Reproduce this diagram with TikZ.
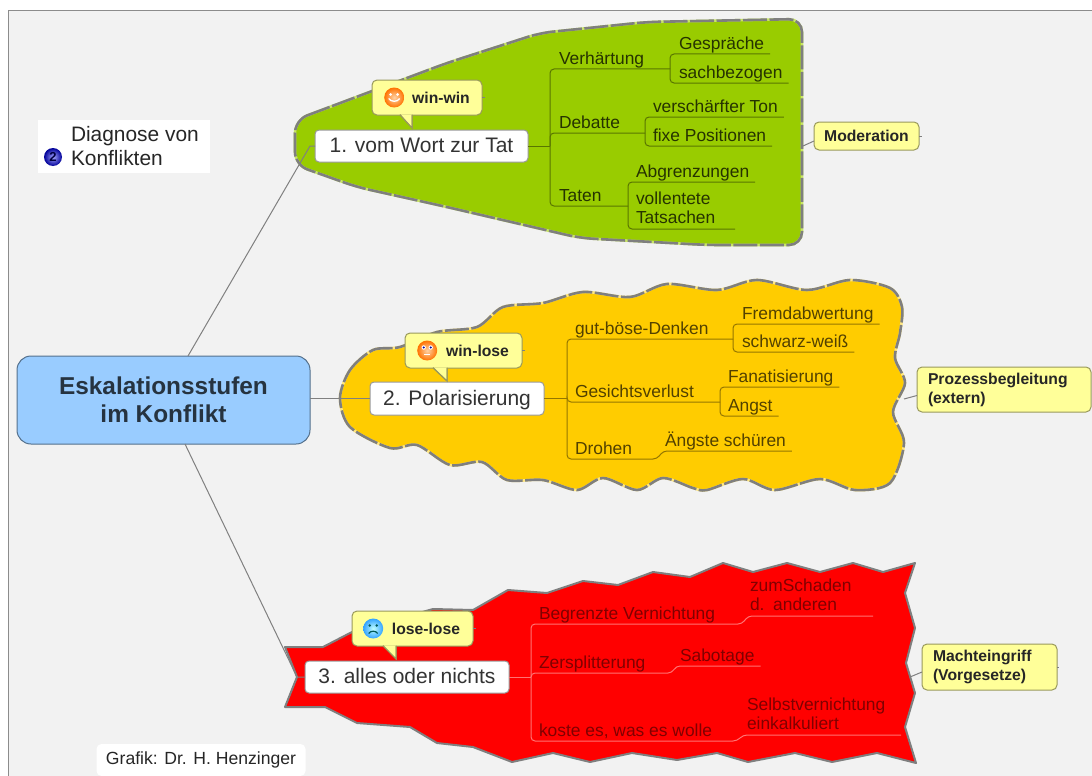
\documentclass[tikz,border=0pt]{standalone}
\usepackage{fontspec}
\setmainfont{Liberation Sans}
\usetikzlibrary{positioning,shapes.geometric}
\definecolor{paper}{HTML}{F2F2F2}
\definecolor{framegray}{HTML}{8C8C8C}
\definecolor{rimgray}{HTML}{7F7F7F}
\definecolor{leaf}{HTML}{99CC00}
\definecolor{leafgap}{HTML}{C8E468}
\definecolor{sun}{HTML}{FFCC00}
\definecolor{sungap}{HTML}{FFE680}
\definecolor{fire}{HTML}{FF0000}
\definecolor{bubbley}{HTML}{FFFF99}
\definecolor{sky}{HTML}{99CCFF}
\tikzstyle{central} = [rectangle, rounded corners=14pt, minimum width=293pt, minimum height=88pt, align=center, draw=black!45!sky, line width=1pt, fill=sky, text=black!75!sky, font=\fontsize{24.4}{28}\selectfont\bfseries, outer sep=0pt]
\tikzstyle{topic} = [rectangle, rounded corners=4pt, minimum height=32pt, text height=16pt, text depth=3pt, draw=black!40, line width=1pt, fill=white, text=black!80, font=\fontsize{21}{24}\selectfont, outer sep=0pt]
\tikzstyle{bubble} = [rectangle, rounded corners=5pt, minimum height=35pt, inner xsep=0pt, draw=black!40!bubbley, line width=1pt, fill=bubbley, text=black!85, font=\fontsize{15.7}{19}\selectfont\bfseries, outer sep=0pt]
\tikzstyle{bubbletail} = [draw=black!40!bubbley, line width=1pt, fill=bubbley]
\tikzstyle{smiley} = [circle, minimum size=20pt, inner sep=0pt, shading=radial]
\tikzstyle{twig} = [rectangle, inner xsep=6pt, inner ysep=1pt, text depth=4pt, outer sep=0pt, align=left, font=\fontsize{17.4}{19.8}\selectfont]
\tikzstyle{twolines} = [text depth=, inner ysep=5pt]
\tikzstyle{twiggreen} = [twig, text=black!75!leaf]
\tikzstyle{twigyellow} = [twig, text=black!68!sun]
\tikzstyle{twigred} = [twig, text=black!50!fire]
\tikzstyle{linegreen} = [draw=black!42!leaf, line width=1pt, rounded corners=4pt]
\tikzstyle{lineyellow} = [draw=black!42!sun, line width=1pt, rounded corners=4pt]
\tikzstyle{linered} = [draw=white!45!fire, line width=1pt, rounded corners=4pt]
\tikzstyle{mainline} = [draw=black!50, line width=1pt]
\tikzstyle{stub} = [draw=black!50, line width=1pt]

\begin{document}
\begin{tikzpicture}[x=1pt, y=-1pt]
\useasboundingbox (0,0) rectangle (1092,776);
\fill [white] (0,0) rectangle (1092,776);
\fill [paper] (8,11) rectangle (1092,776);
\draw [framegray, line width=1pt] (8,776) -- (8,11) -- (1092,11);

% the three shapes
\draw [fill=leaf, draw=leafgap, line width=2.6pt, rounded corners=13pt, postaction={draw=rimgray, dash pattern=on 24pt off 2.5pt, fill=none}]
  (295,120) -- (447,63) -- (540,33) -- (647,22) -- (802,19) -- (802,245) -- (707,245) -- (580,238) -- (447,207) -- (357,187) -- (295,165) -- cycle;
\draw [fill=sun, draw=sungap, line width=2.6pt, postaction={draw=rimgray, dash pattern=on 24pt off 2.5pt, fill=none}]
  plot [smooth cycle, tension=0.5] coordinates {(340,398) (350,370) (373,350) (400,347) (437,332) (477,327) (503,307) (543,303) (583,292) (630,297) (667,284) (717,290) (757,280) (807,290) (850,280) (890,288) (902,307) (900,333) (895,358) (905,383) (893,412) (904,443) (890,483) (855,490) (820,479) (775,490) (743,479) (707,490) (693,488) (663,478) (637,490) (603,478) (577,490) (543,480) (507,480) (482,462) (450,465) (417,445) (390,448) (350,427)};
\draw [fill=fire, draw=rimgray, line width=2pt, line join=round]
  (285,647) -- (323,647) -- (352,632) -- (433,609) -- (473,610) -- (508,590) -- (547,593) -- (583,581) -- (618,585) -- (653,572) -- (690,577) -- (723,563) -- (753,572) -- (787,563) -- (820,572) -- (853,563) -- (883,572) -- (915,563) -- (905,593) -- (915,628) -- (906,663) -- (915,693) -- (905,727) -- (916,763) -- (877,753) -- (832,762) -- (795,753) -- (748,762) -- (717,753) -- (677,760) -- (632,753) -- (590,762) -- (553,753) -- (512,762) -- (473,747) -- (437,743) -- (410,727) -- (357,723) -- (325,707) -- (285,707) -- (297,677) -- cycle;

% main nodes
\node (central) at (163.5,400) [central] {Eskalationsstufen\\im Konflikt};
\node (topic1) at (421.5,146) [topic, minimum width=213pt] {1. vom Wort zur Tat};
\node (topic2) at (457,398.5) [topic, minimum width=174pt, minimum height=33pt] {2. Polarisierung};
\node (topic3) at (407,677) [topic, minimum width=204pt] {3. alles oder nichts};

\coordinate (kink1) at (310,146);
\coordinate (kink3) at (297,677);
\draw [mainline] ([xshift=24.5pt]central.north) -- (kink1) -- (topic1.west);
\draw [mainline] (central.east |- topic2.west) -- (topic2.west);
\draw [mainline] ([xshift=21.5pt]central.south) -- (kink3) -- (topic3.west);

% first topic
\node (verh) [twiggreen, right=25pt of topic1.east, yshift=77pt, anchor=south west] {Verhärtung};
\node (debat) [twiggreen, right=25pt of topic1.east, yshift=13pt, anchor=south west] {Debatte};
\node (taten) [twiggreen, right=25pt of topic1.east, yshift=-60pt, anchor=south west] {Taten};
\node (gespr) [twiggreen, right=145pt of topic1.east, yshift=92pt, anchor=south west] {Gespräche};
\node (sachb) [twiggreen, right=145pt of topic1.east, yshift=63pt, anchor=south west] {sachbezogen};
\node (versch) [twiggreen, right=119pt of topic1.east, yshift=29pt, anchor=south west] {verschärfter Ton};
\node (fixe) [twiggreen, right=119pt of topic1.east, yshift=0pt, anchor=south west] {fixe Positionen};
\node (abgr) [twiggreen, right=102pt of topic1.east, yshift=-36pt, anchor=south west] {Abgrenzungen};
\node (vollt) [twiggreen, twolines, right=102pt of topic1.east, yshift=-83pt, anchor=south west, text width=93pt] {vollentete\\Tatsachen};

\coordinate (fork1) at (550,146);
\coordinate (fork11) at (670,69);
\coordinate (fork12) at (645,133);
\coordinate (fork13) at (628,206);
\draw [linegreen] (topic1.east) -- (fork1);
\draw [linegreen] (fork1) |- (fork11);
\draw [linegreen] (fork1) |- (fork12);
\draw [linegreen] (fork1) |- (fork13);
\draw [linegreen] (fork11) |- (gespr.south east);
\draw [linegreen] (fork11) |- (sachb.south east);
\draw [linegreen] (fork12) |- (versch.south east);
\draw [linegreen] (fork12) |- (fixe.south east);
\draw [linegreen] (fork13) |- (abgr.south east);
\draw [linegreen] (fork13) |- (vollt.south east);

% second topic
\node (gutb) [twigyellow, right=25pt of topic2.east, yshift=59.5pt, anchor=south west] {gut-böse-Denken};
\node (gesi) [twigyellow, right=25pt of topic2.east, yshift=-3.5pt, anchor=south west] {Gesichtsverlust};
\node (droh) [twigyellow, right=25pt of topic2.east, yshift=-60.5pt, anchor=south west] {Drohen};
\node (fremd) [twigyellow, right=192pt of topic2.east, yshift=74.5pt, anchor=south west] {Fremdabwertung};
\node (schw) [twigyellow, right=192pt of topic2.east, yshift=46.5pt, anchor=south west] {schwarz-weiß};
\node (fanat) [twigyellow, right=178pt of topic2.east, yshift=11.5pt, anchor=south west] {Fanatisierung};
\node (angst) [twigyellow, right=178pt of topic2.east, yshift=-17.5pt, anchor=south west] {Angst};
\node (aengst) [twigyellow, right=115pt of topic2.east, yshift=-52.5pt, anchor=south west] {Ängste schüren};

\coordinate (fork2) at (567,398.5);
\coordinate (fork21) at (733,339);
\coordinate (fork22) at (720,402);
\coordinate (fork23) at (657,459);
\draw [lineyellow] (topic2.east) -- (fork2);
\draw [lineyellow] (fork2) |- (fork21);
\draw [lineyellow] (fork2) |- (fork22);
\draw [lineyellow] (fork2) |- (fork23) -- ([xshift=4pt]aengst.south west) -- (aengst.south east);
\draw [lineyellow] (fork21) |- (fremd.south east);
\draw [lineyellow] (fork21) |- (schw.south east);
\draw [lineyellow] (fork22) |- (fanat.south east);
\draw [lineyellow] (fork22) |- (angst.south east);

% third topic
\node (begr) [twigred, right=24pt of topic3.east, yshift=53pt, anchor=south west] {Begrenzte Vernichtung};
\node (zers) [twigred, right=24pt of topic3.east, yshift=4pt, anchor=south west] {Zersplitterung};
\node (kost) [twigred, right=24pt of topic3.east, yshift=-64pt, anchor=south west] {koste es, was es wolle};
\node (zums) [twigred, twolines, right=235pt of topic3.east, yshift=61pt, anchor=south west, text width=117pt] {zumSchaden\\d. anderen};
\node (sabo) [twigred, right=165pt of topic3.east, yshift=11pt, anchor=south west] {Sabotage};
\node (selb) [twigred, twolines, right=232pt of topic3.east, yshift=-58pt, anchor=south west, text width=148pt] {Selbstvernichtung\\einkalkuliert};

\coordinate (fork3) at (531,677);
\coordinate (fork31) at (742,624);
\coordinate (fork32) at (672,673);
\coordinate (fork33) at (737,741);
\draw [linered] (topic3.east) -- (fork3);
\draw [linered] (fork3) |- (fork31) -- ([xshift=4pt]zums.south west) -- (zums.south east);
\draw [linered] (fork3) |- (fork32) -- ([xshift=2pt]sabo.south west) -- (sabo.south east);
\draw [linered] (fork3) |- (fork33) -- ([xshift=2pt]selb.south west) -- (selb.south east);

% bubbles with faces
\node (win1) at (427,97.5) [bubble, minimum width=110pt] {\hspace{28pt}win-win};
\fill [bubbletail] (400,114.5) -- (412,128) -- (412,114.5);
\draw [bubbletail, fill=none] (400,115) -- (412,128) -- (412,115);
\node (face1) [smiley, inner color=orange!35, outer color=orange!90!red, right=12pt of win1.west] {};
\fill [white] ([xshift=-3.5pt,yshift=3pt]face1.center) circle (1.5);
\fill [white] ([xshift=3.5pt,yshift=3pt]face1.center) circle (1.5);
\draw [white, line width=1.3pt] ([xshift=-5.5pt,yshift=-1pt]face1.center) to [bend right=60] ([xshift=5.5pt,yshift=-1pt]face1.center);
\draw [stub] (win1.east) -- ++(3,0);

\node (win2) at (463.5,350.5) [bubble, minimum width=117pt] {\hspace{28pt}win-lose};
\fill [bubbletail] (433,367.5) -- (447,381) -- (447,367.5);
\draw [bubbletail, fill=none] (433,368) -- (447,381) -- (447,368);
\node (face2) [smiley, inner color=orange!35, outer color=orange!90!red, right=12pt of win2.west] {};
\fill [white] ([xshift=-3.5pt,yshift=3pt]face2.center) circle (2.2);
\fill [white] ([xshift=3.5pt,yshift=3pt]face2.center) circle (2.2);
\fill [blue!60!black] ([xshift=-3.5pt,yshift=3pt]face2.center) circle (1.1);
\fill [blue!60!black] ([xshift=3.5pt,yshift=3pt]face2.center) circle (1.1);
\draw [white, line width=1pt] ([xshift=-3pt,yshift=-4pt]face2.center) -- ([xshift=3pt,yshift=-4pt]face2.center);
\draw [stub] (win2.east) -- ++(3,0);

\node (win3) at (412.5,628.5) [bubble, minimum width=121pt] {\hspace{27pt}lose-lose};
\fill [bubbletail] (383,645.5) -- (396,659) -- (396,645.5);
\draw [bubbletail, fill=none] (383,646) -- (396,659) -- (396,646);
\node (face3) [smiley, inner color=cyan!25, outer color=blue!45!cyan!80, right=11pt of win3.west] {};
\fill [teal!70!black] ([xshift=-3.5pt,yshift=3pt]face3.center) circle (1.4);
\fill [teal!70!black] ([xshift=3.5pt,yshift=3pt]face3.center) circle (1.4);
\draw [teal!70!black, line width=1.2pt] ([xshift=-4.5pt,yshift=-5pt]face3.center) to [bend left=60] ([xshift=4.5pt,yshift=-5pt]face3.center);
\draw [stub] (win3.east) -- ++(3,0);

% notes on the right
\node (mode) at (866.5,136) [bubble, minimum width=105pt, minimum height=28pt] {Moderation};
\node (proz) at (1004,389.5) [bubble, text width=152pt, inner xsep=11pt, minimum height=45pt, align=left] {Prozessbegleitung\\(extern)};
\node (mach) at (989.5,667) [bubble, text width=113pt, inner xsep=11pt, minimum height=46pt, align=left] {Machteingriff\\(Vorgesetze)};
\coordinate (rim1) at (803,146);
\coordinate (rim2) at (904,399);
\coordinate (rim3) at (910,677);
\draw [stub] (rim1) -- ([yshift=-5pt]mode.west);
\draw [stub] (rim2) -- ([yshift=-6pt]proz.west);
\draw [stub] (rim3) -- ([yshift=-5pt]mach.west);
\draw [stub] (mode.east) -- ++(3,0);
\draw [stub] (mach.east) -- ++(2,0);

% labels on the left
\node (diagbox) at (124,146.5) [rectangle, minimum width=172pt, minimum height=53pt, fill=white] {};
\node (diag) [right=33pt of diagbox.west, inner sep=0pt, align=left, text=black!85, font=\fontsize{20.9}{24}\selectfont] {Diagnose von\\Konflikten};
\node (prio) at (53,157) [circle, minimum size=18pt, inner sep=0pt, shading=radial, inner color=blue!35, outer color=blue!60!black, text=blue!25!black, font=\fontsize{13}{13}\selectfont\bfseries] {2};
\node (grafik) at (201,760) [rectangle, rounded corners=5pt, minimum width=209pt, minimum height=32pt, fill=white, text=black!85, font=\fontsize{17.6}{20}\selectfont] {Grafik: Dr. H. Henzinger};
\end{tikzpicture}
\end{document}
